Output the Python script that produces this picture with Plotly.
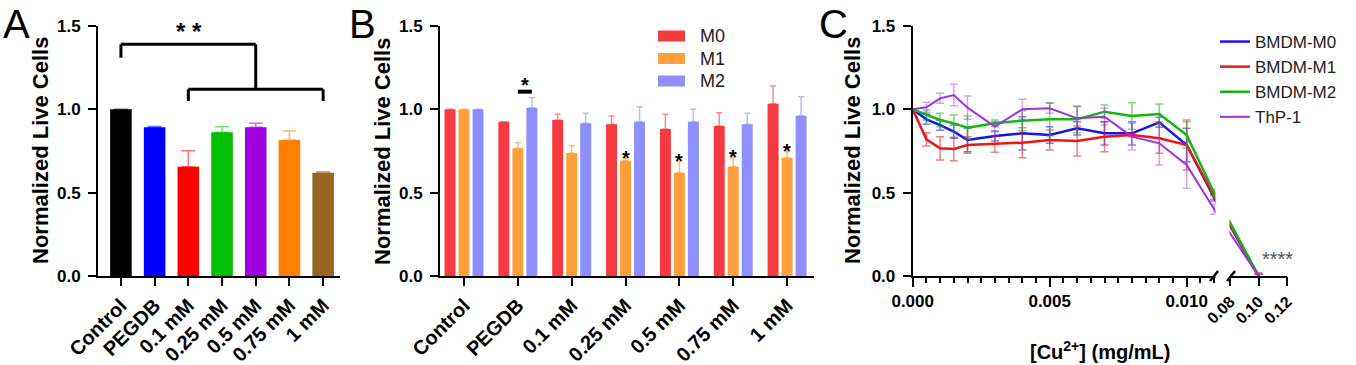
import plotly.graph_objects as go

W, H = 1356, 365
FONT = "Liberation Sans"

# ---------------- Panel A data ----------------
a_cats = ["Control", "PEGDB", "0.1 mM", "0.25 mM", "0.5 mM", "0.75 mM", "1 mM"]
a_vals = [1.0, 0.892, 0.656, 0.862, 0.892, 0.816, 0.62]
a_err = [0.0, 0.005, 0.096, 0.034, 0.024, 0.054, 0.006]
a_colors = ["#000000", "#0000FF", "#FF0000", "#00C000", "#A000E0", "#FF8000", "#9A6425"]
a_brackets = [([0, 4], 1.39, 1.31, 1.12), ([2, 6], 1.12, 1.05, 1.05)]
a_sig_text = "* *"

# ---------------- Panel B data ----------------
b_cats = ["Control", "PEGDB", "0.1 mM", "0.25 mM", "0.5 mM", "0.75 mM", "1 mM"]
b_m0 = [1.0, 0.926, 0.936, 0.91, 0.882, 0.9, 1.034]
b_m0_err = [0.0, 0.0, 0.034, 0.05, 0.088, 0.08, 0.106]
b_m1 = [1.0, 0.766, 0.738, 0.692, 0.62, 0.656, 0.71]
b_m1_err = [0.0, 0.034, 0.044, 0.014, 0.066, 0.054, 0.036]
b_m2 = [1.0, 1.01, 0.916, 0.926, 0.926, 0.91, 0.962]
b_m2_err = [0.0, 0.06, 0.06, 0.09, 0.074, 0.066, 0.114]
b_sig_m1 = ["", "", "", "*", "*", "*", "*"]
b_names = ["M0", "M1", "M2"]
b_colors = ["#F63A42", "#FFA03C", "#8E8EFF"]
b_err_colors = ["rgba(246,58,66,0.6)", "rgba(255,160,60,0.7)", "rgba(142,142,255,0.6)"]

# ---------------- Panel C data ----------------
c_x = [0, 0.0005, 0.001, 0.0015, 0.002, 0.003, 0.004, 0.005, 0.006, 0.007,
       0.008, 0.009, 0.010, 0.011, 0.10]
c_names = ["BMDM-M0", "BMDM-M1", "BMDM-M2", "ThP-1"]
c_m0 = [1.0, 0.94, 0.905, 0.866, 0.816, 0.84, 0.856, 0.846, 0.886, 0.856, 0.856, 0.922, 0.786, 0.47, 0.0]
c_m1 = [1.0, 0.82, 0.766, 0.762, 0.786, 0.792, 0.80, 0.816, 0.81, 0.836, 0.846, 0.826, 0.786, 0.48, 0.0]
c_m2 = [1.0, 0.966, 0.936, 0.916, 0.89, 0.916, 0.932, 0.94, 0.94, 0.986, 0.96, 0.972, 0.846, 0.50, 0.0]
c_thp = [1.0, 1.012, 1.066, 1.086, 1.01, 0.896, 1.0, 1.006, 0.946, 0.956, 0.836, 0.796, 0.666, 0.40, 0.0]
c_m0_err = [0, 0.03, 0.03, 0.04, 0.07, 0.03, 0.10, 0.05, 0.04, 0.07, 0.07, 0.03, 0.10, 0.02, 0.01]
c_m1_err = [0, 0.04, 0.07, 0.07, 0.05, 0.05, 0.09, 0.06, 0.09, 0.09, 0.01, 0.09, 0.15, 0.02, 0.02]
c_m2_err = [0, 0.03, 0.04, 0.05, 0.07, 0.02, 0.06, 0.10, 0.08, 0.04, 0.08, 0.06, 0.08, 0.02, 0.01]
c_thp_err = [0, 0.03, 0.03, 0.065, 0.07, 0.03, 0.06, 0.03, 0.07, 0.05, 0.08, 0.13, 0.14, 0.03, 0.01]
c_colors = ["#1414F0", "#F01414", "#14B414", "#A030E0"]
c_err_colors = ["rgba(20,20,240,0.55)", "rgba(240,20,20,0.55)", "rgba(20,180,20,0.55)", "rgba(160,48,224,0.45)"]
c_widths = [2.5, 2.5, 2.5, 2.0]
c_major = [0.0, 0.005, 0.010]
c_major_text = ["0.000", "0.005", "0.010"]
c_seg2 = [0.08, 0.10, 0.12]
c_seg2_text = ["0.08", "0.10", "0.12"]
c_sig_text = "****"

Y_TITLE = "Normalized Live Cells"
C_X_TITLE = "[Cu<sup>2+</sup>] (mg/mL)"

# broken x-axis scale for panel C
BREAK_LO, BREAK_HI = 0.011, 0.08
GAP = 0.000584          # gap between the two segments (in segment-1 units)
SEG2_SCALE = 0.052      # segment-2 compression factor


def cx(v):
    if v <= BREAK_LO:
        return v
    return BREAK_LO + GAP + (v - BREAK_HI) * SEG2_SCALE


C_RANGE = [0, cx(0.12)]


# ---------------- layout geometry (pixels) ----------------
def px_x(p):
    return p / W


def px_y(p):
    return 1 - p / H


Y_DOM = [px_y(276), px_y(26)]
A_DOM = [px_x(98), px_x(340)]
B_DOM = [px_x(440), px_x(814)]
C_DOM = [px_x(912.7), px_x(1287.1)]

fig = go.Figure()

# Panel A bars
for cat, v, e, col in zip(a_cats, a_vals, a_err, a_colors):
    r, g, b = int(col[1:3], 16), int(col[3:5], 16), int(col[5:7], 16)
    fig.add_trace(go.Bar(
        x=[cat], y=[v], width=0.64, marker=dict(color=col, line=dict(width=0)),
        error_y=dict(type="data", array=[e], arrayminus=[0], symmetric=False,
                     color=f"rgba({r},{g},{b},0.55)", thickness=1.5, width=7),
        xaxis="x", yaxis="y", showlegend=False, name=cat))

# Panel B bars
b_series = [b_m0, b_m1, b_m2]
b_errs = [b_m0_err, b_m1_err, b_m2_err]
b_offsets = [-0.362, -0.102, 0.158]
for name, vals, errs, col, ecol, off in zip(b_names, b_series, b_errs, b_colors, b_err_colors, b_offsets):
    fig.add_trace(go.Bar(
        x=b_cats, y=vals, width=0.204, offset=off, name=name,
        marker=dict(color=col, line=dict(width=0)),
        error_y=dict(type="data", array=errs, arrayminus=[0] * len(errs), symmetric=False,
                     color=ecol, thickness=1.5, width=3),
        xaxis="x2", yaxis="y2", showlegend=False))

# Panel C lines
c_series = [c_m0, c_m1, c_m2, c_thp]
c_errs = [c_m0_err, c_m1_err, c_m2_err, c_thp_err]
c_xd = [cx(v) for v in c_x]
for name, vals, errs, col, ecol, lw in zip(c_names, c_series, c_errs, c_colors, c_err_colors, c_widths):
    fig.add_trace(go.Scatter(
        x=c_xd, y=vals, mode="lines", name=name,
        line=dict(color=col, width=lw),
        error_y=dict(type="data", array=errs, color=ecol, thickness=1.5, width=4),
        xaxis="x3", yaxis="y3", showlegend=True, legend="legend"))

# invisible trace to carry the second-segment tick axis of panel C
fig.add_trace(go.Scatter(x=[cx(v) for v in c_seg2], y=[0, 0, 0], mode="markers",
                         marker=dict(opacity=0), xaxis="x4", yaxis="y3",
                         showlegend=False, hoverinfo="skip"))

tick_font = dict(family=FONT, size=17, color="#000000", weight="bold")
cat_font = dict(family=FONT, size=20, color="#000000", weight="bold")
title_font = dict(family=FONT, size=22, color="#000000", weight="bold")

yax = dict(range=[0, 1.5], tickvals=[0, 0.5, 1.0, 1.5], tickformat=".1f",
           showline=True, linecolor="#000000", linewidth=2, ticks="outside",
           ticklen=8, tickwidth=2, tickcolor="#000000", tickfont=tick_font,
           showgrid=False, zeroline=False, domain=Y_DOM, automargin=False,
           ticklabelstandoff=4)

xcat = dict(type="category", showline=True, linecolor="#000000", linewidth=2,
            ticks="outside", ticklen=8, tickwidth=2, tickcolor="#000000",
            tickangle=-45, tickfont=cat_font, showgrid=False, zeroline=False,
            automargin=False)

fig.update_layout(
    width=W, height=H, margin=dict(l=0, r=0, t=0, b=0, autoexpand=False),
    paper_bgcolor="white", plot_bgcolor="white", barmode="overlay",
    font=dict(family=FONT, color="#000000"),
    xaxis=dict(xcat, domain=A_DOM, range=[-0.68, 6.5], anchor="y",
               categoryorder="array", categoryarray=a_cats),
    yaxis=dict(yax, anchor="x"),
    xaxis2=dict(xcat, domain=B_DOM, range=[-0.446, 6.5], anchor="y2",
                categoryorder="array", categoryarray=b_cats),
    yaxis2=dict(yax, anchor="x2"),
    xaxis3=dict(domain=C_DOM, range=C_RANGE, anchor="y3", showline=True,
                linecolor="#000000", linewidth=2, ticks="outside", ticklen=9,
                tickwidth=2, tickcolor="#000000", tickvals=c_major,
                ticktext=c_major_text, tickfont=tick_font, showgrid=False,
                zeroline=False, automargin=False,
                minor=dict(tickvals=[round(i * 0.0005, 4) for i in range(23)],
                           ticks="outside", ticklen=5, tickwidth=2,
                           tickcolor="#000000", showgrid=False)),
    xaxis4=dict(overlaying="x3", range=C_RANGE, anchor="y3", showline=False,
                ticks="outside", ticklen=9, tickwidth=2, tickcolor="#000000",
                tickvals=[cx(v) for v in c_seg2], ticktext=c_seg2_text,
                tickangle=-45, tickfont=dict(family=FONT, size=16, color="#000000", weight="bold"),
                showgrid=False, zeroline=False, automargin=False),
    yaxis3=dict(yax, anchor="x3"),
    legend=dict(x=px_x(1215), y=px_y(24), xanchor="left", yanchor="top",
                font=dict(family=FONT, size=17, color="#222222"),
                bgcolor="rgba(0,0,0,0)", tracegroupgap=0, itemwidth=30),
)

shapes = []
annotations = []

# axis titles
for tx in [40, 382, 852]:
    annotations.append(dict(x=px_x(tx), y=px_y(151), xref="paper", yref="paper", text=Y_TITLE,
                            textangle=-90, showarrow=False, xanchor="center", yanchor="middle",
                            font=title_font))
annotations.append(dict(x=px_x(1100), y=0, xref="paper", yref="paper", text=C_X_TITLE,
                        showarrow=False, xanchor="center", yanchor="bottom",
                        font=dict(family=FONT, size=20, color="#000000", weight="bold")))

# Panel A significance brackets
for (xs, ytop, yl, yr) in a_brackets:
    shapes.append(dict(type="line", xref="x", yref="y", x0=xs[0], x1=xs[1], y0=ytop, y1=ytop,
                       line=dict(color="#000000", width=3)))
    shapes.append(dict(type="line", xref="x", yref="y", x0=xs[0], x1=xs[0], y0=yl, y1=ytop,
                       line=dict(color="#000000", width=3)))
    shapes.append(dict(type="line", xref="x", yref="y", x0=xs[1], x1=xs[1], y0=yr, y1=ytop,
                       line=dict(color="#000000", width=3)))
annotations.append(dict(x=2.02, y=1.47, xref="x", yref="y", text=a_sig_text, showarrow=False,
                        font=dict(family=FONT, size=24, color="#000000", weight="bold"),
                        yanchor="middle"))

# Panel B significance
for i, (s, v, e) in enumerate(zip(b_sig_m1, b_m1, b_m1_err)):
    if s:
        annotations.append(dict(x=i, y=v + e + 0.005, xref="x2", yref="y2", text=s,
                                showarrow=False, yanchor="middle",
                                font=dict(family=FONT, size=20, color="#000000", weight="bold")))
shapes.append(dict(type="line", xref="x2", yref="y2", x0=1.0, x1=1.26, y0=1.106, y1=1.106,
                   line=dict(color="#000000", width=4)))
annotations.append(dict(x=1.13, y=1.145, xref="x2", yref="y2", text="*", showarrow=False,
                        yanchor="middle",
                        font=dict(family=FONT, size=20, color="#000000", weight="bold")))

# Panel B legend (swatches + labels)
b_leg_y = [36, 58.5, 81]
for name, col, yy in zip(b_names, b_colors, b_leg_y):
    shapes.append(dict(type="rect", xref="paper", yref="paper", x0=px_x(658), x1=px_x(685),
                       y0=px_y(yy + 5.5), y1=px_y(yy - 5.5), fillcolor=col, line=dict(width=0)))
    annotations.append(dict(x=px_x(698), y=px_y(yy), xref="paper", yref="paper", text=name,
                            showarrow=False, xanchor="left", yanchor="middle",
                            font=dict(family=FONT, size=18, color="#222222")))

# Panel C axis break: gap + slash marks
shapes.append(dict(type="rect", xref="paper", yref="paper", x0=px_x(1215.5), x1=px_x(1229.5),
                   y0=px_y(279), y1=px_y(26), fillcolor="white", line=dict(width=0),
                   layer="above"))
for bx in [1214, 1231]:
    shapes.append(dict(type="line", xref="paper", yref="paper", x0=px_x(bx - 4), x1=px_x(bx + 4),
                       y0=px_y(281), y1=px_y(271), line=dict(color="#000000", width=2.5)))
annotations.append(dict(x=cx(0.10), y=0.1, xref="x3", yref="y3", text=c_sig_text,
                        showarrow=False, xanchor="left", yanchor="middle", xshift=1,
                        font=dict(family=FONT, size=20, color="#555555")))

# panel letters
for letter, lx in [("A", 1), ("B", 347), ("C", 817)]:
    annotations.append(dict(x=px_x(lx), y=1, xref="paper", yref="paper", text=letter,
                            showarrow=False, xanchor="left", yanchor="top",
                            font=dict(family=FONT, size=40, color="#000000")))

fig.update_layout(shapes=shapes, annotations=annotations)
fig.write_html("out.html")
